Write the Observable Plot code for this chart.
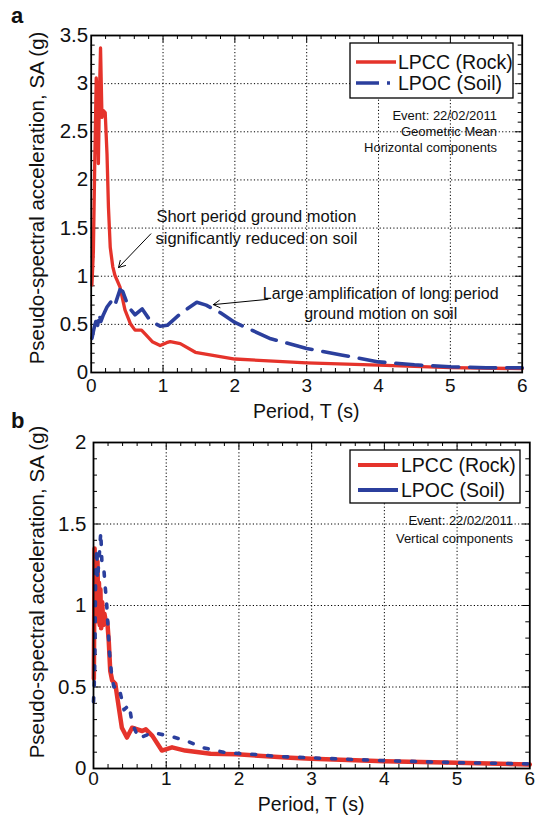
<!DOCTYPE html>
<html><head><meta charset="utf-8">
<script src="https://cdn.jsdelivr.net/npm/d3@7"></script>
<script src="https://cdn.jsdelivr.net/npm/@observablehq/plot@0.6"></script>
<style>
body{margin:0;background:#fff;}
#wrap{position:relative;width:537px;height:819px;overflow:hidden;}
#wrap svg{position:absolute;left:0;background:none;overflow:visible;}
</style></head><body><div id="wrap"></div>
<script>
// ---------- Data ----------
// Panel a: geometric mean of horizontal components
const rockPeriodA = [0.01,0.03,0.05,0.07,0.085,0.10,0.115,0.13,0.15,0.17,0.195,0.22,0.24,0.265,0.30,0.33,0.40,0.47,0.55,0.61,0.70,0.75,0.85,0.96,1.05,1.10,1.24,1.45,2.0,2.6,3.0,4.0,5.0,6.0];
const rockSAA     = [0.91,1.25,2.20,3.06,2.90,2.17,2.90,3.37,2.65,2.72,2.70,2.27,1.72,1.30,1.10,1.01,0.89,0.65,0.50,0.44,0.44,0.40,0.32,0.28,0.31,0.32,0.30,0.21,0.14,0.115,0.10,0.076,0.05,0.04];
const soilPeriodA = [0.01,0.04,0.065,0.09,0.11,0.135,0.17,0.22,0.29,0.33,0.40,0.44,0.52,0.61,0.71,0.82,0.96,1.06,1.24,1.47,1.6,1.8,2.0,2.5,3.0,3.5,4.0,4.5,5.0,5.5,6.0];
const soilSAA     = [0.355,0.46,0.53,0.49,0.61,0.53,0.60,0.68,0.75,0.70,0.86,0.84,0.68,0.60,0.66,0.54,0.48,0.49,0.61,0.73,0.70,0.62,0.52,0.35,0.25,0.18,0.11,0.08,0.06,0.05,0.05];
// Panel b: vertical components
const rockPeriodB = [0.005,0.015,0.025,0.035,0.045,0.055,0.065,0.075,0.085,0.095,0.105,0.12,0.135,0.15,0.17,0.19,0.21,0.23,0.257,0.30,0.326,0.39,0.46,0.53,0.67,0.72,0.81,0.94,1.08,1.26,1.61,1.97,2.71,3.0,4.0,5.0,6.0];
const rockSAB     = [0.55,1.35,1.00,1.30,0.95,1.27,0.90,1.14,0.88,1.10,0.86,1.02,0.88,0.95,0.90,0.90,0.78,0.60,0.54,0.52,0.44,0.25,0.19,0.25,0.23,0.24,0.20,0.11,0.13,0.11,0.09,0.087,0.066,0.06,0.045,0.035,0.025];
const soilPeriodB = [0.0,0.01,0.02,0.03,0.046,0.055,0.08,0.10,0.115,0.14,0.156,0.18,0.22,0.25,0.28,0.33,0.37,0.42,0.49,0.53,0.62,0.81,1.04,1.28,1.48,1.79,2.04,2.27,2.5,2.73,3.0,4.0,5.0,6.0];
const soilSAB     = [0.41,0.51,0.73,1.22,1.35,1.16,1.31,1.45,1.27,1.24,1.14,1.02,0.71,0.57,0.50,0.51,0.46,0.36,0.39,0.28,0.185,0.22,0.20,0.17,0.13,0.10,0.09,0.085,0.075,0.07,0.065,0.048,0.036,0.028];
const periodTicks = [0,1,2,3,4,5,6];
const saTicksA = [0,0.5,1,1.5,2,2.5,3,3.5];
const saTicksB = [0,0.5,1,1.5,2];
const seriesNames = ["LPCC (Rock)", "LPOC (Soil)"];

const FONT = '"Liberation Sans", Arial, Helvetica, sans-serif';
const RED = "#e5332b", BLUE = "#2b3f9d";
const toRows = (T, S) => T.map((t, i) => ({T: t, SA: S[i]}));

function panel(o) {
  const W = 537, fw = W - o.ml - o.mr, fh = o.height - o.mt - o.mb;
  const xMinor = d3.range(0, 31).filter(i => i % 5).map(i => i / 5);
  const yMinor = d3.range(0, Math.round(o.yMax * 10) + 1).filter(i => i % 5).map(i => i / 10);
  const xInner = periodTicks.slice(1, -1);
  const yInner = o.yTicks.slice(1, -1);
  const tick = (vals, len, axis) => axis === "x"
    ? [Plot.ruleX(vals, {stroke: "#000", strokeWidth: 1, insetTop: fh - len}),
       Plot.ruleX(vals, {stroke: "#000", strokeWidth: 1, insetBottom: fh - len})]
    : [Plot.ruleY(vals, {stroke: "#000", strokeWidth: 1, insetRight: fw - len}),
       Plot.ruleY(vals, {stroke: "#000", strokeWidth: 1, insetLeft: fw - len})];
  const svg = Plot.plot({
    width: W, height: o.height,
    marginTop: o.mt, marginBottom: o.mb, marginLeft: o.ml, marginRight: o.mr,
    style: {fontFamily: FONT, fontSize: "19.5px", color: "#111", background: "none", overflow: "visible"},
    x: {domain: [0, 6]},
    y: {domain: [0, o.yMax]},
    marks: [
      Plot.ruleX(xInner, {stroke: "#000", strokeWidth: 1, strokeDasharray: "1.2,2.2"}),
      Plot.ruleY(yInner, {stroke: "#000", strokeWidth: 1, strokeDasharray: "1.2,2.2"}),
      ...tick(xMinor, 4, "x"), ...tick(xInner, 7, "x"),
      ...tick(yMinor, 4, "y"), ...tick(yInner, 7, "y"),
      Plot.line(o.rock, {x: "T", y: "SA", stroke: RED, strokeWidth: o.rockW, strokeLinejoin: "round"}),
      Plot.line(o.soil, {x: "T", y: "SA", stroke: BLUE, strokeWidth: o.soilW, strokeDasharray: o.soilDash, strokeLinejoin: "round"}),
      Plot.frame({stroke: "#000", strokeWidth: 1.8}),
      Plot.axisX({ticks: periodTicks, tickSize: 0, tickPadding: o.xPad, label: null, fontSize: 19, tickFormat: d => String(d)}),
      Plot.axisY({ticks: o.yTicks, tickSize: 0, tickPadding: o.yPad, label: null, fontSize: 20.5, tickFormat: d => String(d)}),
      ...(o.extra || [])
    ]
  });
  svg.style.top = o.top + "px";
  const s = d3.select(svg);
  const t = (x, y, txt, size, anchor = "start", weight = "normal") =>
    s.append("text").attr("x", x).attr("y", y).attr("text-anchor", anchor)
      .attr("font-family", FONT).attr("font-size", size).attr("font-weight", weight)
      .attr("fill", "#111").text(txt);
  // panel letter
  t(11, o.letterY, o.letter, 22, "start", "bold");
  // axis titles
  s.append("text").attr("transform", `translate(44,${o.ylabelY}) rotate(-90)`)
    .attr("text-anchor", "middle").attr("font-family", FONT).attr("font-size", 20.5).attr("fill", "#111")
    .text("Pseudo-spectral acceleration, SA (g)");
  t(o.ml + fw / 2, o.mt + fh + o.xlabOff, "Period, T (s)", 19.5, "middle");
  // legend
  const L = o.legend;
  s.append("rect").attr("x", L.x).attr("y", L.y).attr("width", L.w).attr("height", L.h)
    .attr("fill", "#fff").attr("stroke", "#000").attr("stroke-width", 1.3);
  L.rows.forEach((r, i) => {
    s.append("line").attr("x1", L.lx1).attr("x2", L.lx2).attr("y1", r.y).attr("y2", r.y)
      .attr("stroke", r.color).attr("stroke-width", r.w).attr("stroke-dasharray", r.dash || null);
    t(L.tx, r.y + 7, seriesNames[i], 19.5);
  });
  o.notes.forEach(n => t(o.notesX, n.y, n.text, 13, "end"));
  return svg;
}

const wrap = document.getElementById("wrap");
wrap.appendChild(panel({
  top: 0, height: 425, mt: 35, mb: 53, ml: 90.7, mr: 15.3, yMax: 3.5, yTicks: saTicksA, yPad: 3, xPad: 6, xlabOff: 46,
  rock: toRows(rockPeriodA, rockSAA), soil: toRows(soilPeriodA, soilSAA),
  rockW: 3.3, soilW: 3.6, soilDash: "26,11",
  letter: "a", letterY: 23, ylabelY: 198,
  legend: {x: 350, y: 43, w: 163, h: 55, lx1: 356, lx2: 396, tx: 398,
    rows: [{y: 62, color: RED, w: 3.3}, {y: 83, color: BLUE, w: 3.6, dash: "23,8,3,30"}]},
  notesX: 497,
  notes: [{y: 120, text: "Event: 22/02/2011"}, {y: 136, text: "Geometric Mean"}, {y: 152, text: "Horizontal components"}],
  extra: [
    Plot.text(["Short period ground motion\nsignificantly reduced on soil"], {x: 2.3, y: 1.52, fontSize: 16.5, lineHeight: 1.33, fill: "#111"}),
    Plot.arrow([0], {x1: 0.83, y1: 1.44, x2: 0.38, y2: 1.09, stroke: "#000", strokeWidth: 1, headLength: 11, inset: 0}),
    Plot.text(["Large amplification of long period\nground motion on soil"], {x: 4.03, y: 0.73, fontSize: 16, lineHeight: 1.28, fill: "#111"}),
    Plot.arrow([0], {x1: 2.46, y1: 0.76, x2: 1.70, y2: 0.705, stroke: "#000", strokeWidth: 1, headLength: 11, inset: 0})
  ]
}));
wrap.appendChild(panel({
  top: 400, height: 419, mt: 42, mb: 51, ml: 93, mr: 7.7, yMax: 2, yTicks: saTicksB, yPad: 7, xPad: 3, xlabOff: 43,
  rock: toRows(rockPeriodB, rockSAB), soil: toRows(soilPeriodB, soilSAB),
  rockW: 4.5, soilW: 3.6, soilDash: "4,12",
  letter: "b", letterY: 28, ylabelY: 192,
  legend: {x: 350, y: 50, w: 170, h: 53, lx1: 358, lx2: 398, tx: 401,
    rows: [{y: 65, color: RED, w: 4}, {y: 90, color: BLUE, w: 4}]},
  notesX: 513,
  notes: [{y: 125, text: "Event: 22/02/2011"}, {y: 143, text: "Vertical components"}]
}));
</script></body></html>
